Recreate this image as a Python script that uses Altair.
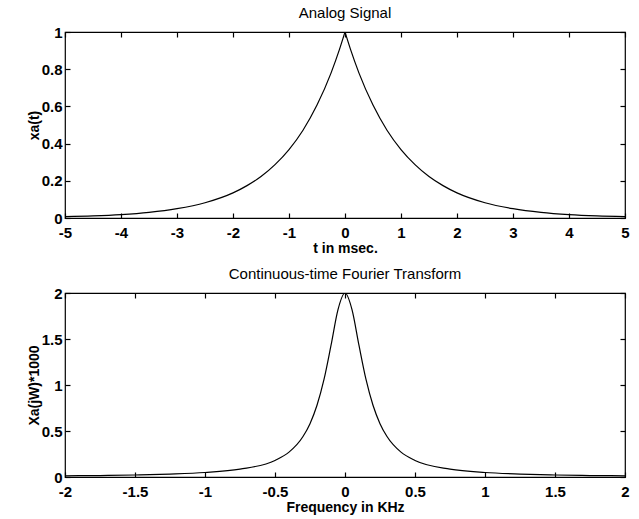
import altair as alt
import pandas as pd

# ---- data ----
t_ms = [-5, -4.5, -4, -3.5, -3, -2.5, -2, -1.75, -1.5, -1.25, -1, -0.75, -0.5, -0.25, -0.1,
        0, 0.1, 0.25, 0.5, 0.75, 1, 1.25, 1.5, 1.75, 2, 2.5, 3, 3.5, 4, 4.5, 5]
xa_t = [0.007, 0.011, 0.018, 0.030, 0.050, 0.082, 0.135, 0.174, 0.223, 0.287, 0.368, 0.472, 0.607, 0.779, 0.905,
        1.0, 0.905, 0.779, 0.607, 0.472, 0.368, 0.287, 0.223, 0.174, 0.135, 0.082, 0.050, 0.030, 0.018, 0.011, 0.007]

f_khz = [-2, -1.75, -1.5, -1.25, -1, -0.75, -0.5, -0.4, -0.3, -0.25, -0.2, -0.15, -0.1, -0.05,
         0, 0.05, 0.1, 0.15, 0.2, 0.25, 0.3, 0.4, 0.5, 0.75, 1, 1.25, 1.5, 1.75, 2]
xa_jw = [0.013, 0.016, 0.022, 0.032, 0.049, 0.086, 0.18, 0.27, 0.44, 0.58, 0.78, 1.06, 1.43, 1.82,
         2.0, 1.82, 1.43, 1.06, 0.78, 0.58, 0.44, 0.27, 0.18, 0.086, 0.049, 0.032, 0.022, 0.016, 0.013]

top_xticks = [-5, -4, -3, -2, -1, 0, 1, 2, 3, 4, 5]
top_yticks = [0, 0.2, 0.4, 0.6, 0.8, 1]
bot_xticks = [-2, -1.5, -1, -0.5, 0, 0.5, 1, 1.5, 2]
bot_yticks = [0, 0.5, 1, 1.5, 2]

FONT = "Liberation Sans"
W = 560
LBL = "toString(datum.value)"

# the analog signal has a cusp at t = 0: draw each side as its own smooth branch
rows = []
for t, v in zip(t_ms, xa_t):
    if t <= 0:
        rows.append({"t": t, "xa": v, "side": "left"})
    if t >= 0:
        rows.append({"t": t, "xa": v, "side": "right"})
top_df = pd.DataFrame(rows)
bot_df = pd.DataFrame({"f": f_khz, "X": xa_jw, "side": "all"})


def panel(df, xf, yf, xdom, ydom, xticks, yticks, title, xtitle, ytitle, h):
    xs = alt.Scale(domain=xdom, nice=False, zero=False)
    ys = alt.Scale(domain=ydom, nice=False, zero=False)
    base = alt.Chart(df)
    line = base.mark_line(color="black", strokeWidth=1.2, interpolate="monotone", clip=True).encode(
        x=alt.X(f"{xf}:Q", scale=xs,
                axis=alt.Axis(values=xticks, orient="bottom", offset=-5, tickSize=5, domain=False,
                              labelPadding=7, title=xtitle, titlePadding=1, labelFlush=False,
                              labelOverlap=False, labelExpr=LBL)),
        y=alt.Y(f"{yf}:Q", scale=ys,
                axis=alt.Axis(values=yticks, orient="left", offset=-5, tickSize=5, domain=False,
                              labelPadding=3, title=ytitle, titlePadding=0, labelFlush=False,
                              labelOverlap=False, labelExpr=LBL)),
        detail="side:N",
    )
    mirror = base.mark_line(opacity=0).encode(
        x=alt.X(f"{xf}:Q", scale=xs,
                axis=alt.Axis(values=xticks, orient="top", offset=-5, tickSize=5, domain=False,
                              labels=False, title=None)),
        y=alt.Y(f"{yf}:Q", scale=ys,
                axis=alt.Axis(values=yticks, orient="right", offset=-5, tickSize=5, domain=False,
                              labels=False, title=None)),
    )
    return (
        alt.layer(line, mirror)
        .resolve_axis(x="independent", y="independent")
        .properties(width=W, height=h,
                    title=alt.TitleParams(title, fontSize=15, fontWeight="normal", font=FONT,
                                          anchor="middle", offset=4, color="black"))
    )


top = panel(top_df, "t", "xa", [-5, 5], [0, 1],
            top_xticks, top_yticks, "Analog Signal", "t in msec.", "xa(t)", 186)
bot = panel(bot_df, "f", "X", [-2, 2], [0, 2],
            bot_xticks, bot_yticks, "Continuous-time Fourier Transform", "Frequency in KHz",
            "Xa(jW)*1000", 184)

chart = (
    alt.vconcat(top, bot, spacing=10)
    .properties(padding={"left": 26, "top": 5, "right": 5, "bottom": 5}, background="white")
    .configure_view(stroke="black", strokeWidth=1.2)
    .configure_axis(labelFont=FONT, titleFont=FONT, labelFontSize=15, titleFontSize=14,
                    labelColor="black", titleColor="black", tickColor="black", tickWidth=1.2,
                    labelFontWeight="bold", titleFontWeight="bold", grid=False)
)

chart.save("out.html", embed_options={"renderer": "svg", "actions": False})
